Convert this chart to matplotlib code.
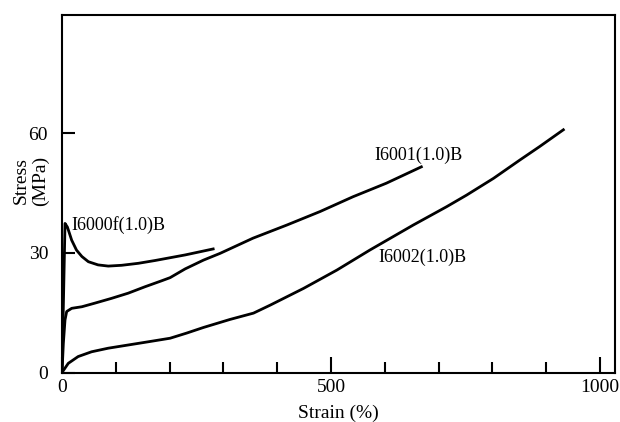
import matplotlib
matplotlib.use('Agg')
import matplotlib.pyplot as plt
from matplotlib.ticker import MultipleLocator

plt.rcParams['font.family'] = ['Liberation Serif', 'DejaVu Serif']

# I6000f(1.0)B
strain_f = [0, 3, 5.6, 10, 18, 27, 37, 49, 67, 86, 111, 142, 173, 229, 281]
stress_f = [0, 20, 37.4, 36.5, 33.2, 30.7, 29.1, 27.8, 27.0, 26.7, 26.9, 27.4, 28.1, 29.5, 31.0]

# I6001(1.0)B
strain_1 = [0, 2.5, 5.6, 8.7, 18, 37, 61, 92, 123, 154, 185, 201, 229, 263, 294,
            355, 418, 480, 541, 603, 668]
stress_1 = [0, 7.3, 13.2, 15.3, 16.1, 16.5, 17.4, 18.6, 19.9, 21.5, 23.0, 23.8, 26.0, 28.2, 29.9,
            33.7, 37.0, 40.4, 44.1, 47.5, 51.6]

# I6002(1.0)B
strain_2 = [0, 11.7, 30, 55, 86, 123, 160, 201, 232, 263, 312, 356, 387, 449, 511, 572,
            653, 715, 752, 802, 851, 888, 932]
stress_2 = [0, 2.3, 4.0, 5.2, 6.1, 6.9, 7.7, 8.6, 9.9, 11.3, 13.3, 14.9, 16.9, 21.1, 25.7, 30.7,
            37.0, 41.6, 44.5, 48.7, 53.3, 56.7, 60.9]

labels = ['I6000f(1.0)B', 'I6001(1.0)B', 'I6002(1.0)B']
label_pos = [(16.7, 37.0), (581, 54.6), (589, 28.9)]

fig = plt.figure(figsize=(6.2, 4.22), dpi=100)
ax = fig.add_axes([62 / 620, 1 - 372.5 / 422, 553 / 620, 357.5 / 422])

for xs, ys in [(strain_f, stress_f), (strain_1, stress_1), (strain_2, stress_2)]:
    ax.plot(xs, ys, color='black', linewidth=2.0, solid_joinstyle='round')

for txt, (lx, ly) in zip(labels, label_pos):
    ax.text(lx, ly, txt, fontsize=13, ha='left', va='center')

ax.set_xlim(0, 1028)
ax.set_ylim(0, 89.7)
ax.set_xticks([0, 500, 1000])
ax.xaxis.set_minor_locator(MultipleLocator(100))
ax.set_yticks([0, 30, 60])

ax.tick_params(axis='x', which='major', direction='in', length=11.5, width=1.5,
               labelsize=14, pad=5)
ax.tick_params(axis='x', which='minor', direction='in', length=8, width=1.5)
ax.tick_params(axis='y', which='major', direction='in', length=9.5, width=1.5,
               labelsize=14, pad=10)

for s in ax.spines.values():
    s.set_linewidth(1.5)

ax.set_xlabel('Strain (%)', fontsize=14, labelpad=6)
ax.set_ylabel('Stress\n(MPa)', fontsize=14, va='center', linespacing=1.15)
ax.yaxis.set_label_coords(-0.056, 0.537)

fig.savefig('out.png', dpi=100)
